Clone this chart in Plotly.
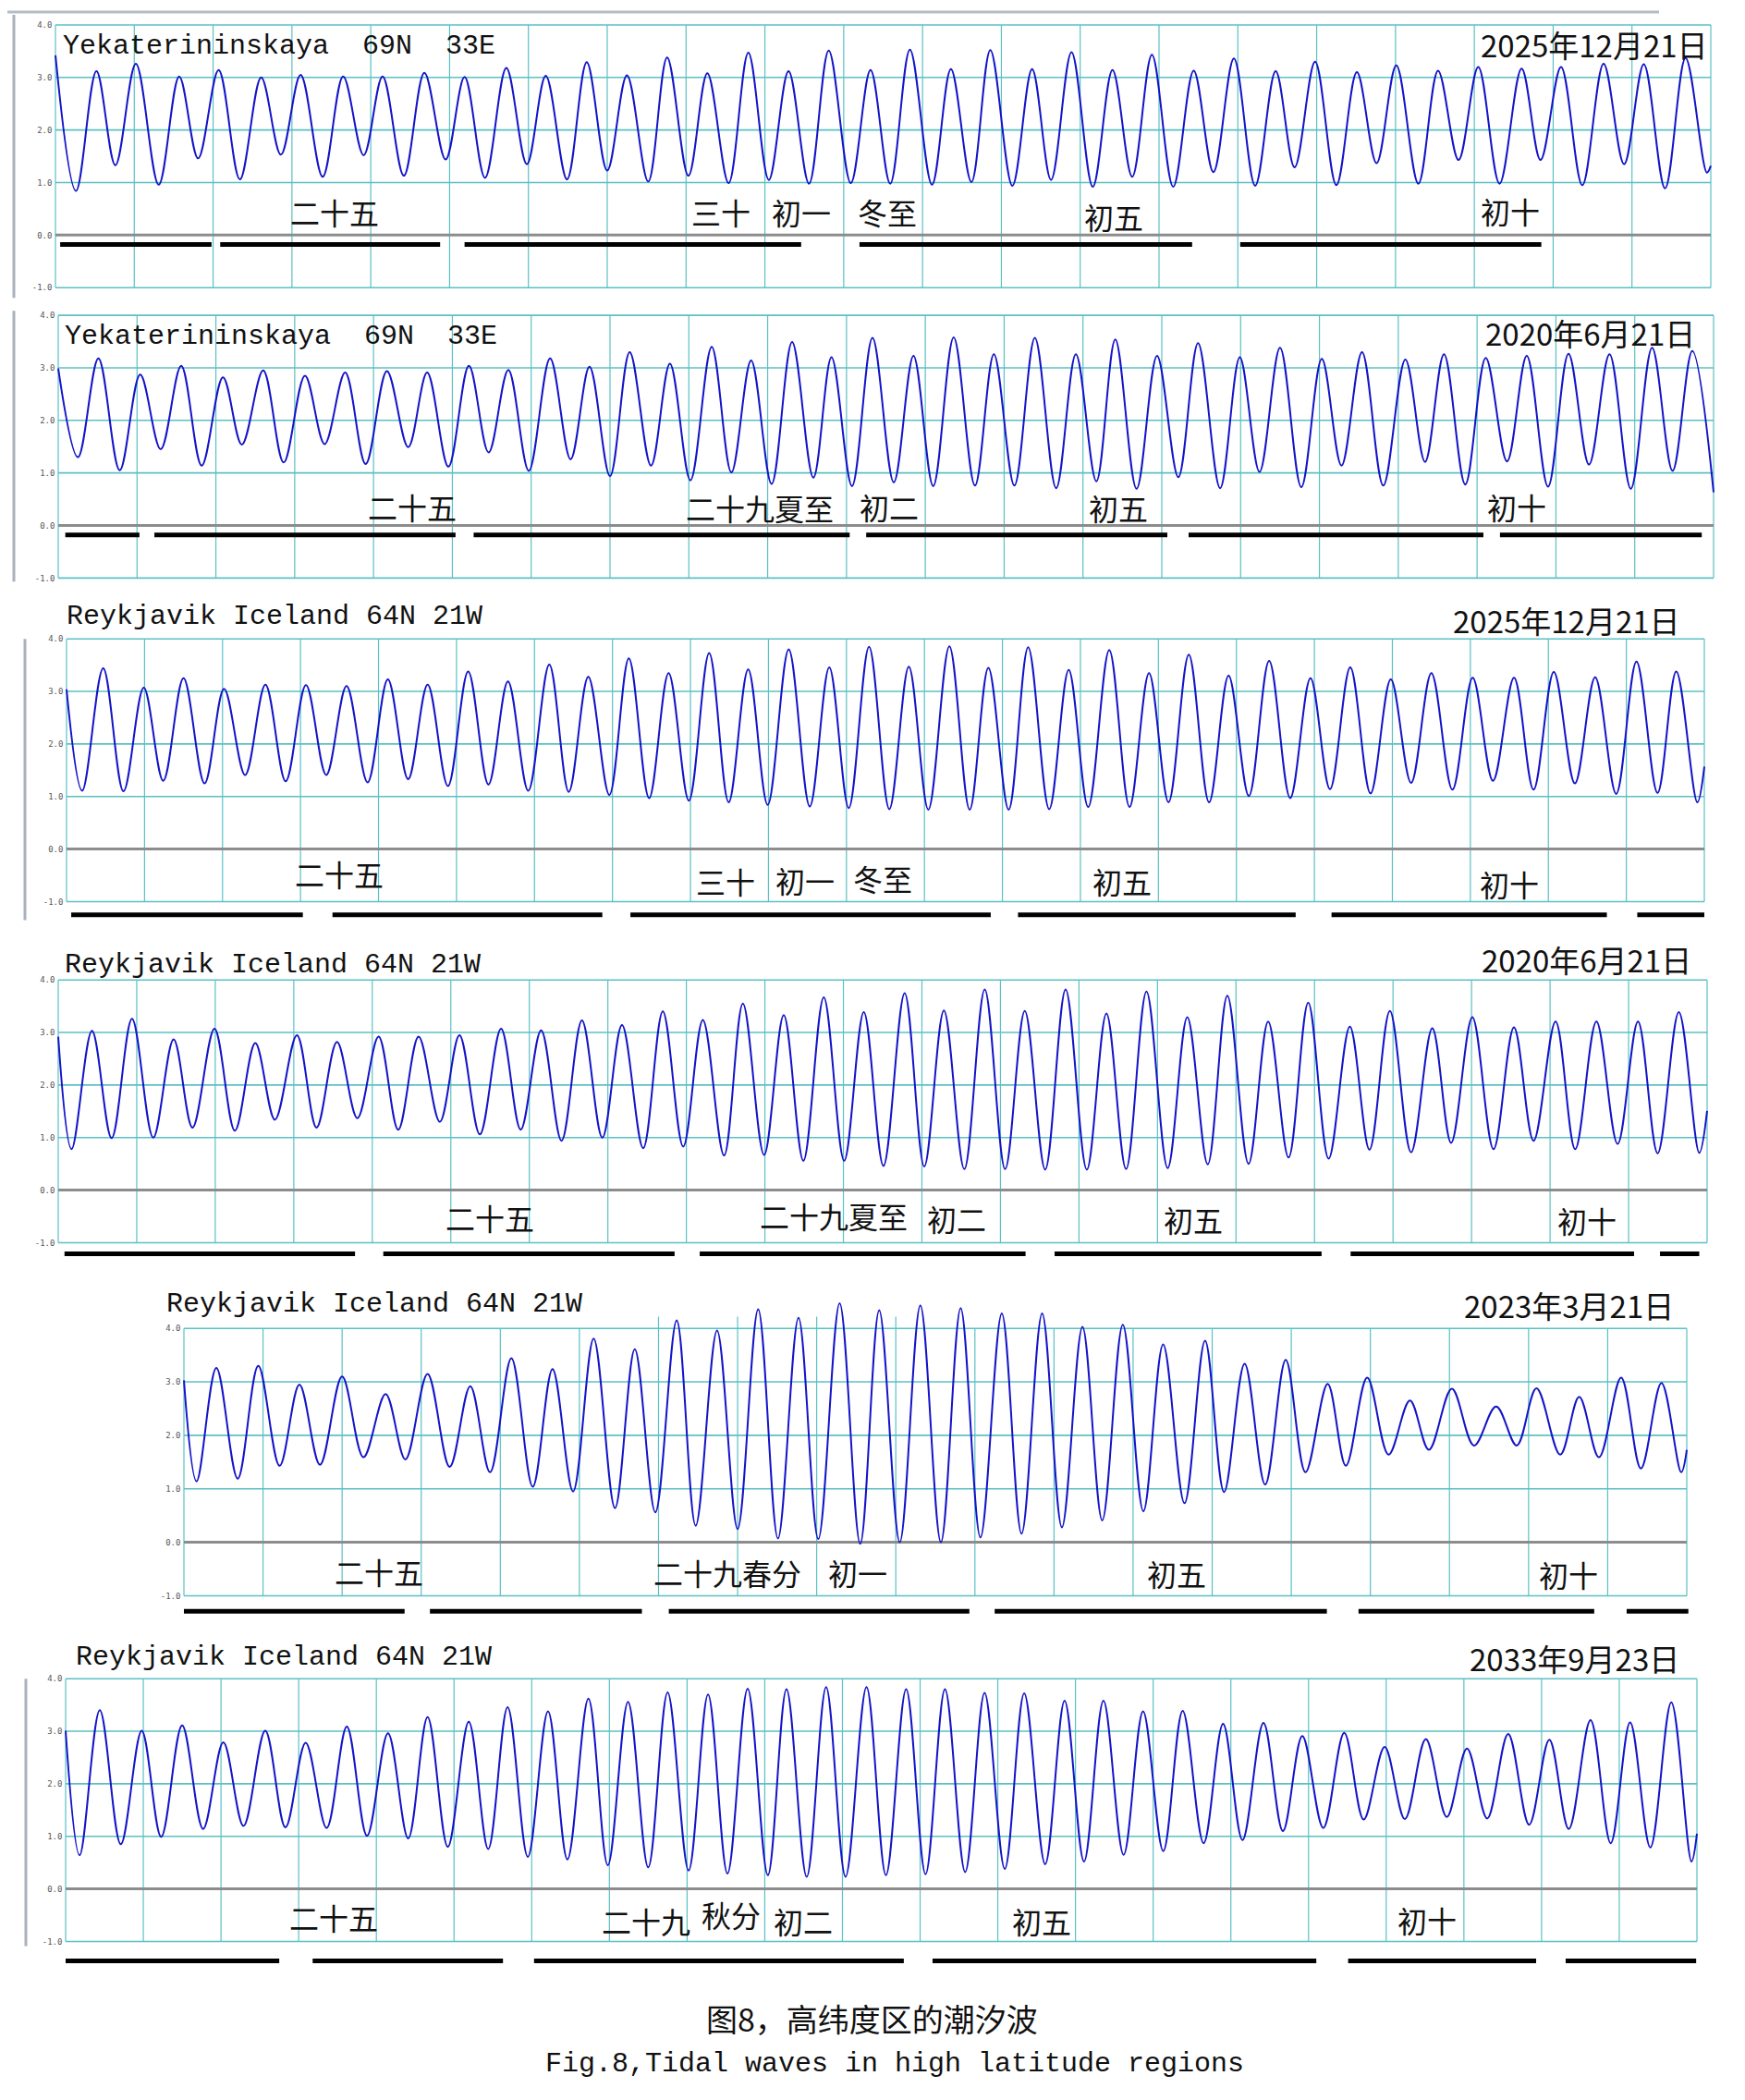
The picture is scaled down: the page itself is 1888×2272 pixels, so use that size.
import plotly.graph_objects as go

W, H = 1888, 2272
BODY = 8                      # browser body margin of the written page
FW, FH = W - BODY, H - BODY   # figure size so the page fits the window

# ---------------- data: tide extrema (day, height) ----------------
yek_2025 = [(0, 3.42), (0.26, 0.84), (0.52, 3.12), (0.76, 1.33), (1.02, 3.26), (1.31, 0.96), (1.57, 3.02), (1.81, 1.46),
            (2.07, 3.14), (2.34, 1.06), (2.61, 3.00), (2.86, 1.53), (3.11, 3.05), (3.39, 1.11), (3.65, 3.02), (3.91, 1.52),
            (4.15, 3.02), (4.42, 1.13), (4.68, 3.09), (4.95, 1.44), (5.19, 3.01), (5.45, 1.09), (5.72, 3.18), (5.98, 1.35),
            (6.22, 3.03), (6.49, 1.06), (6.74, 3.29), (7.00, 1.23), (7.25, 3.04), (7.52, 1.02), (7.76, 3.38), (8.03, 1.13),
            (8.27, 3.08), (8.54, 0.99), (8.79, 3.47), (9.05, 1.05), (9.30, 3.12), (9.56, 0.98), (9.81, 3.51), (10.09, 0.99),
            (10.34, 3.14), (10.59, 0.98), (10.84, 3.53), (11.12, 0.96), (11.36, 3.16), (11.62, 1.01), (11.86, 3.52), (12.14, 0.94),
            (12.39, 3.16), (12.63, 1.05), (12.89, 3.48), (13.16, 0.92), (13.41, 3.14), (13.66, 1.11), (13.91, 3.43), (14.18, 0.92),
            (14.44, 3.13), (14.69, 1.20), (14.95, 3.36), (15.22, 0.94), (15.48, 3.12), (15.72, 1.29), (15.98, 3.30), (16.25, 0.95),
            (16.51, 3.10), (16.76, 1.37), (17.01, 3.23), (17.29, 0.98), (17.54, 3.13), (17.80, 1.43), (18.05, 3.20), (18.32, 0.98),
            (18.60, 3.17), (18.84, 1.43), (19.10, 3.20), (19.37, 0.95), (19.64, 3.26), (19.90, 1.35), (20.15, 3.25), (20.42, 0.89),
            (20.68, 3.37), (20.95, 1.19), (21.00, 1.32)]

yek_2020 = [(0, 2.99), (0.25, 1.30), (0.51, 3.18), (0.78, 1.05), (1.04, 2.87), (1.30, 1.45), (1.56, 3.04), (1.82, 1.14),
            (2.09, 2.82), (2.33, 1.54), (2.60, 2.95), (2.86, 1.20), (3.13, 2.85), (3.38, 1.55), (3.64, 2.91), (3.90, 1.17),
            (4.17, 2.94), (4.44, 1.49), (4.68, 2.91), (4.95, 1.12), (5.21, 3.04), (5.46, 1.39), (5.71, 2.96), (5.97, 1.04),
            (6.24, 3.18), (6.50, 1.26), (6.74, 3.02), (7.00, 0.94), (7.25, 3.30), (7.52, 1.14), (7.76, 3.08), (8.02, 0.86),
            (8.29, 3.40), (8.54, 1.01), (8.79, 3.14), (9.05, 0.79), (9.31, 3.49), (9.58, 0.91), (9.81, 3.20), (10.07, 0.75),
            (10.33, 3.57), (10.60, 0.82), (10.85, 3.23), (11.10, 0.75), (11.36, 3.58), (11.63, 0.76), (11.87, 3.26), (12.13, 0.76),
            (12.39, 3.57), (12.66, 0.71), (12.91, 3.26), (13.17, 0.84), (13.41, 3.54), (13.68, 0.70), (13.94, 3.23), (14.21, 0.92),
            (14.46, 3.47), (14.74, 0.71), (14.99, 3.20), (15.24, 1.02), (15.50, 3.38), (15.77, 0.73), (16.03, 3.17), (16.28, 1.14),
            (16.54, 3.30), (16.81, 0.76), (17.09, 3.16), (17.34, 1.21), (17.58, 3.26), (17.85, 0.78), (18.11, 3.19), (18.38, 1.22),
            (18.63, 3.23), (18.90, 0.74), (19.16, 3.27), (19.42, 1.16), (19.68, 3.26), (19.95, 0.70), (20.22, 3.38), (20.48, 1.04),
            (20.73, 3.32), (21.00, 0.63)]

rey_2025 = [(0, 3.04), (0.20, 1.11), (0.47, 3.44), (0.73, 1.10), (0.99, 3.07), (1.24, 1.30), (1.50, 3.25), (1.77, 1.25),
            (2.02, 3.05), (2.29, 1.41), (2.55, 3.13), (2.81, 1.29), (3.07, 3.12), (3.33, 1.41), (3.59, 3.10), (3.86, 1.27),
            (4.12, 3.23), (4.38, 1.33), (4.63, 3.13), (4.89, 1.20), (5.15, 3.38), (5.41, 1.23), (5.66, 3.19), (5.92, 1.11),
            (6.19, 3.51), (6.44, 1.09), (6.69, 3.28), (6.96, 1.03), (7.21, 3.63), (7.47, 0.97), (7.72, 3.35), (7.98, 0.92),
            (8.24, 3.73), (8.49, 0.89), (8.74, 3.42), (8.99, 0.84), (9.26, 3.80), (9.53, 0.81), (9.78, 3.46), (10.03, 0.78),
            (10.29, 3.85), (10.55, 0.76), (10.80, 3.47), (11.05, 0.75), (11.32, 3.86), (11.58, 0.75), (11.82, 3.45), (12.08, 0.75),
            (12.33, 3.84), (12.60, 0.76), (12.85, 3.41), (13.10, 0.80), (13.37, 3.79), (13.63, 0.80), (13.88, 3.35), (14.13, 0.89),
            (14.39, 3.70), (14.65, 0.89), (14.90, 3.30), (15.16, 1.01), (15.42, 3.58), (15.69, 0.97), (15.95, 3.25), (16.20, 1.14),
            (16.46, 3.46), (16.72, 1.06), (16.98, 3.23), (17.24, 1.26), (17.50, 3.35), (17.77, 1.13), (18.03, 3.26), (18.29, 1.30),
            (18.56, 3.26), (18.81, 1.13), (19.07, 3.37), (19.34, 1.25), (19.60, 3.27), (19.87, 1.05), (20.13, 3.57), (20.40, 1.07),
            (20.64, 3.38), (20.91, 0.89), (21.00, 1.57)]

rey_2020 = [(0, 2.92), (0.17, 0.78), (0.43, 3.03), (0.68, 0.99), (0.94, 3.26), (1.21, 1.00), (1.47, 2.87), (1.71, 1.19),
            (1.99, 3.07), (2.25, 1.13), (2.51, 2.80), (2.76, 1.34), (3.04, 2.95), (3.29, 1.19), (3.55, 2.82), (3.81, 1.37),
            (4.08, 2.92), (4.33, 1.15), (4.59, 2.92), (4.86, 1.30), (5.11, 2.95), (5.37, 1.06), (5.64, 3.07), (5.89, 1.15),
            (6.15, 3.04), (6.41, 0.94), (6.67, 3.23), (6.93, 1.00), (7.18, 3.14), (7.45, 0.80), (7.70, 3.40), (7.96, 0.83),
            (8.21, 3.24), (8.48, 0.66), (8.72, 3.55), (8.99, 0.67), (9.24, 3.33), (9.49, 0.56), (9.75, 3.67), (10.01, 0.56),
            (10.26, 3.39), (10.51, 0.46), (10.78, 3.75), (11.03, 0.45), (11.28, 3.42), (11.54, 0.40), (11.80, 3.82), (12.06, 0.40),
            (12.31, 3.41), (12.57, 0.39), (12.83, 3.82), (13.10, 0.39), (13.35, 3.36), (13.60, 0.40), (13.86, 3.78), (14.13, 0.42),
            (14.38, 3.29), (14.64, 0.49), (14.89, 3.70), (15.16, 0.50), (15.41, 3.21), (15.67, 0.62), (15.92, 3.57), (16.18, 0.60),
            (16.45, 3.11), (16.70, 0.77), (16.96, 3.41), (17.23, 0.72), (17.50, 3.08), (17.74, 0.90), (18.01, 3.29), (18.28, 0.78),
            (18.54, 3.10), (18.79, 0.94), (19.07, 3.21), (19.32, 0.78), (19.59, 3.21), (19.86, 0.88), (20.12, 3.21), (20.37, 0.70),
            (20.64, 3.39), (20.90, 0.71), (21.00, 1.51)]

rey_2023 = [(0, 3.03), (0.16, 1.14), (0.41, 3.26), (0.68, 1.19), (0.94, 3.30), (1.21, 1.43), (1.46, 2.95), (1.72, 1.45),
            (2.00, 3.10), (2.27, 1.59), (2.55, 2.77), (2.80, 1.55), (3.08, 3.15), (3.36, 1.41), (3.62, 2.92), (3.87, 1.31),
            (4.14, 3.44), (4.41, 1.04), (4.66, 3.24), (4.92, 0.95), (5.18, 3.81), (5.45, 0.64), (5.70, 3.61), (5.96, 0.56),
            (6.23, 4.15), (6.47, 0.31), (6.74, 3.96), (7.00, 0.25), (7.26, 4.36), (7.51, 0.07), (7.77, 4.20), (8.02, 0.06),
            (8.29, 4.47), (8.55, -0.03), (8.79, 4.34), (9.05, 0.00), (9.31, 4.43), (9.57, 0.00), (9.82, 4.38), (10.07, 0.09),
            (10.34, 4.28), (10.59, 0.16), (10.85, 4.28), (11.10, 0.28), (11.36, 4.03), (11.61, 0.41), (11.87, 4.07), (12.13, 0.58),
            (12.38, 3.70), (12.65, 0.73), (12.91, 3.77), (13.15, 0.94), (13.41, 3.34), (13.67, 1.08), (13.93, 3.41), (14.18, 1.31),
            (14.46, 2.96), (14.69, 1.43), (14.96, 3.08), (15.23, 1.64), (15.50, 2.65), (15.74, 1.73), (16.03, 2.87), (16.31, 1.81),
            (16.59, 2.54), (16.85, 1.81), (17.10, 2.88), (17.40, 1.64), (17.64, 2.72), (17.89, 1.59), (18.17, 3.08), (18.42, 1.38),
            (18.68, 2.98), (18.93, 1.31), (19.00, 1.73)]

rey_2033 = [(0, 3.01), (0.18, 0.64), (0.44, 3.40), (0.71, 0.85), (0.98, 3.01), (1.23, 0.99), (1.50, 3.11), (1.77, 1.14),
            (2.03, 2.79), (2.29, 1.20), (2.57, 3.01), (2.83, 1.17), (3.09, 2.78), (3.36, 1.16), (3.62, 3.09), (3.88, 1.01),
            (4.15, 2.96), (4.41, 0.96), (4.66, 3.27), (4.92, 0.80), (5.19, 3.18), (5.44, 0.76), (5.69, 3.46), (5.95, 0.61),
            (6.21, 3.38), (6.46, 0.56), (6.73, 3.62), (6.98, 0.45), (7.24, 3.56), (7.50, 0.41), (7.75, 3.74), (8.02, 0.35),
            (8.27, 3.70), (8.52, 0.29), (8.78, 3.81), (9.04, 0.26), (9.28, 3.80), (9.54, 0.23), (9.79, 3.84), (10.04, 0.23),
            (10.31, 3.84), (10.56, 0.26), (10.82, 3.80), (11.07, 0.28), (11.32, 3.80), (11.58, 0.32), (11.83, 3.73), (12.09, 0.38),
            (12.34, 3.72), (12.61, 0.47), (12.86, 3.58), (13.11, 0.52), (13.36, 3.58), (13.62, 0.65), (13.87, 3.38), (14.13, 0.72),
            (14.38, 3.39), (14.65, 0.87), (14.90, 3.14), (15.15, 0.93), (15.42, 3.16), (15.67, 1.10), (15.92, 2.91), (16.19, 1.16),
            (16.46, 2.97), (16.71, 1.32), (16.98, 2.70), (17.24, 1.33), (17.51, 2.85), (17.78, 1.37), (18.04, 2.67), (18.30, 1.34),
            (18.57, 2.95), (18.84, 1.22), (19.10, 2.84), (19.35, 1.14), (19.63, 3.21), (19.89, 0.87), (20.14, 3.17), (20.40, 0.79),
            (20.67, 3.55), (20.93, 0.52), (21.00, 1.05)]

# black day bars (start day, end day)
yek_2025_bars = [(0.06, 1.98), (2.09, 4.88), (5.19, 9.46), (10.20, 14.42), (15.03, 18.85)]
yek_2020_bars = [(0.09, 1.03), (1.22, 5.04), (5.27, 10.04), (10.25, 14.07), (14.34, 18.08), (18.29, 20.85)]
rey_2025_bars = [(0.06, 3.03), (3.41, 6.87), (7.23, 11.85), (12.20, 15.76), (16.22, 19.75), (20.14, 21.00)]
rey_2020_bars = [(0.08, 3.78), (4.14, 7.85), (8.17, 12.32), (12.69, 16.09), (16.46, 20.07), (20.40, 20.90)]
rey_2023_bars = [(0.00, 2.79), (3.11, 5.79), (6.13, 9.93), (10.25, 14.45), (14.85, 17.83), (18.24, 19.02)]
rey_2033_bars = [(0.00, 2.75), (3.18, 5.63), (6.03, 10.79), (11.16, 16.10), (16.51, 18.93), (19.31, 20.99)]

# lunar-date labels and the day they sit on
yek_2025_labels = ["二十五", "三十", "初一", "冬至", "初五", "初十"]
yek_2025_label_days = [3.54, 8.44, 9.46, 10.55, 13.43, 18.46]
yek_2020_labels = ["二十五", "二十九夏至", "初二", "初五", "初十"]
yek_2020_label_days = [4.49, 8.90, 10.54, 13.45, 18.50]
rey_2025_labels = ["二十五", "三十", "初一", "冬至", "初五", "初十"]
rey_2025_label_days = [3.50, 8.45, 9.47, 10.46, 13.53, 18.50]
rey_2020_labels = ["二十五", "二十九夏至", "初二", "初五", "初十"]
rey_2020_label_days = [5.50, 9.88, 11.44, 14.46, 19.47]
rey_2023_labels = ["二十五", "二十九春分", "初一", "初五", "初十"]
rey_2023_label_days = [2.46, 6.87, 8.52, 12.55, 17.50]
rey_2033_labels = ["二十五", "二十九", "秋分", "初二", "初五", "初十"]
rey_2033_label_days = [3.45, 7.47, 8.57, 9.50, 12.56, 17.52]

y_ticks = [-1, 0, 1, 2, 3, 4]
y_tick_text = ["-1.0", "0.0", "1.0", "2.0", "3.0", "4.0"]

# ---------------- layout geometry (pixels of the target picture) ----------------
NB = "\u00a0"
panels = [
    dict(data=yek_2025, bars=yek_2025_bars, labels=yek_2025_labels, ldays=yek_2025_label_days,
         ly=[0.44, 0.44, 0.44, 0.44, 0.35, 0.47], bar_y=-0.18,
         left=60, right=1851, zero=252, ppu=57, ncol=21, ymin=-1.03, ymax=4.03,
         title="Yekaterininskaya" + NB * 2 + "69N" + NB * 2 + "33E", tpos=(66, 47),
         date="2025年12月21日", dpos=(1850, 45)),
    dict(data=yek_2020, bars=yek_2020_bars, labels=yek_2020_labels, ldays=yek_2020_label_days,
         ly=[0.36, 0.34, 0.36, 0.35, 0.36], bar_y=-0.18,
         left=63, right=1854, zero=567, ppu=57, ncol=21, ymin=-1.03, ymax=4.03,
         title="Yekaterininskaya" + NB * 2 + "69N" + NB * 2 + "33E", tpos=(68, 362),
         date="2020年6月21日", dpos=(1836, 358)),
    dict(data=rey_2025, bars=rey_2025_bars, labels=rey_2025_labels, ldays=rey_2025_label_days,
         ly=[-0.47, -0.6, -0.58, -0.56, -0.6, -0.65], bar_y=-1.25,
         left=72, right=1844, zero=918, ppu=57, ncol=21, ymin=-1.45, ymax=4.03,
         title="Reykjavik Iceland 64N 21W", tpos=(70, 666),
         date="2025年12月21日", dpos=(1820, 670)),
    dict(data=rey_2020, bars=rey_2020_bars, labels=rey_2020_labels, ldays=rey_2020_label_days,
         ly=[-0.52, -0.49, -0.54, -0.55, -0.57], bar_y=-1.21,
         left=63, right=1847, zero=1288, ppu=57, ncol=21, ymin=-1.40, ymax=4.03,
         title="Reykjavik Iceland 64N 21W", tpos=(68, 1044),
         date="2020年6月21日", dpos=(1832, 1038)),
    dict(data=rey_2023, bars=rey_2023_bars, labels=rey_2023_labels, ldays=rey_2023_label_days,
         ly=[-0.55, -0.56, -0.56, -0.57, -0.6], bar_y=-1.29,
         left=199, right=1825, zero=1670, ppu=58, ncol=19, ymin=-1.45, ymax=4.6,
         title="Reykjavik Iceland 64N 21W", tpos=(178, 1412),
         date="2023年3月21日", dpos=(1813, 1413), tall_grid=[6, 7, 8, 9]),
    dict(data=rey_2033, bars=rey_2033_bars, labels=rey_2033_labels, ldays=rey_2033_label_days,
         ly=[-0.54, -0.61, -0.49, -0.61, -0.6, -0.58], bar_y=-1.37,
         left=71, right=1836, zero=2046, ppu=57, ncol=21, ymin=-1.55, ymax=4.03,
         title="Reykjavik Iceland 64N 21W", tpos=(80, 1795),
         date="2033年9月23日", dpos=(1819, 1796)),
]

GRID = "#5cc0c4"
CURVE = "#1414c8"
MONO = "Liberation Mono, DejaVu Sans Mono, monospace"
CJK = "Noto Sans CJK SC, sans-serif"


def px(x):
    return (x - BODY) / FW


def py(y):
    return 1 - (y - BODY) / FH


fig = go.Figure()
shapes = []
annotations = []
layout_axes = {}
XPAD = 0.03

for i, p in enumerate(panels, start=1):
    sfx = "" if i == 1 else str(i)
    xr, yr = "x" + sfx, "y" + sfx
    colw = (p["right"] - p["left"]) / p["ncol"]
    x_dom = [px(p["left"] - XPAD * colw), px(p["right"] + XPAD * colw)]
    top_px = p["zero"] - p["ymax"] * p["ppu"]
    bot_px = p["zero"] - p["ymin"] * p["ppu"]
    y_dom = [py(bot_px), py(top_px)]

    layout_axes["xaxis" + sfx] = dict(domain=x_dom, range=[-XPAD, p["ncol"] + XPAD], anchor=yr,
                                      visible=False, fixedrange=True)
    layout_axes["yaxis" + sfx] = dict(domain=y_dom, range=[p["ymin"], p["ymax"]], anchor=xr,
                                      showgrid=False, zeroline=False, showline=False, ticks="",
                                      tickvals=y_ticks, ticktext=y_tick_text,
                                      tickfont=dict(family="DejaVu Sans Mono", size=9, color="#555"),
                                      fixedrange=True)

    # grid
    tall = p.get("tall_grid", [])
    for d in range(p["ncol"] + 1):
        shapes.append(dict(type="line", xref=xr, yref=yr, x0=d, x1=d, y0=-1,
                           y1=4.22 if d in tall else 4, layer="below",
                           line=dict(color=GRID, width=1.2)))
    for v in [-1, 1, 2, 3, 4]:
        shapes.append(dict(type="line", xref=xr, yref=yr, x0=0, x1=p["ncol"], y0=v, y1=v,
                           layer="below", line=dict(color=GRID, width=1.6)))
    shapes.append(dict(type="line", xref=xr, yref=yr, x0=0, x1=p["ncol"], y0=0, y1=0,
                       layer="below", line=dict(color="#8c8c8c", width=3)))

    # tide curve
    t = [a for a, b in p["data"]]
    h = [b for a, b in p["data"]]
    fig.add_trace(go.Scatter(x=t, y=h, mode="lines", xaxis=xr, yaxis=yr,
                             line=dict(color=CURVE, width=2.0, shape="spline", smoothing=1),
                             hoverinfo="skip", showlegend=False))

    # black bars
    bx, by = [], []
    for a, b in p["bars"]:
        bx += [a, b, None]
        by += [p["bar_y"], p["bar_y"], None]
    fig.add_trace(go.Scatter(x=bx, y=by, mode="lines", xaxis=xr, yaxis=yr,
                             line=dict(color="black", width=5),
                             hoverinfo="skip", showlegend=False))

    # lunar labels
    for txt, d, yy in zip(p["labels"], p["ldays"], p["ly"]):
        annotations.append(dict(x=d, y=yy, xref=xr, yref=yr, text=txt, showarrow=False,
                                xanchor="center", yanchor="middle",
                                font=dict(family=CJK, size=32, color="#111")))

    # titles
    annotations.append(dict(x=px(p["tpos"][0]), y=py(p["tpos"][1]), xref="paper", yref="paper",
                            text=p["title"], showarrow=False, xanchor="left", yanchor="middle",
                            font=dict(family=MONO, size=30, color="#111")))
    annotations.append(dict(x=px(p["dpos"][0]), y=py(p["dpos"][1]), xref="paper", yref="paper",
                            text=p["date"], showarrow=False, xanchor="right", yanchor="middle",
                            font=dict(family=CJK, size=33, color="#111")))

# screenshot edge artefacts
for x0, y0, y1 in [(15, 13, 320), (15, 334, 628), (27, 690, 995), (28, 1818, 2108)]:
    shapes.append(dict(type="line", xref="paper", yref="paper", x0=px(x0), x1=px(x0),
                       y0=py(y0), y1=py(y1), line=dict(color="#a9b1ba", width=3)))
shapes.append(dict(type="line", xref="paper", yref="paper", x0=0, x1=px(1795),
                   y0=py(10), y1=py(10), line=dict(color="#b4bcc4", width=3)))

# caption
annotations.append(dict(x=px(943), y=py(2186), xref="paper", yref="paper", text="图8，高纬度区的潮汐波",
                        showarrow=False, xanchor="center", yanchor="middle",
                        font=dict(family=CJK, size=34, color="#111")))
annotations.append(dict(x=px(968), y=py(2236), xref="paper", yref="paper",
                        text="Fig.8,Tidal waves in high latitude regions",
                        showarrow=False, xanchor="center", yanchor="middle",
                        font=dict(family=MONO, size=30, color="#111")))

fig.update_layout(width=FW, height=FH, margin=dict(l=0, r=0, t=0, b=0),
                  paper_bgcolor="white", plot_bgcolor="white",
                  shapes=shapes, annotations=annotations, **layout_axes)

fig.write_html("out.html")
